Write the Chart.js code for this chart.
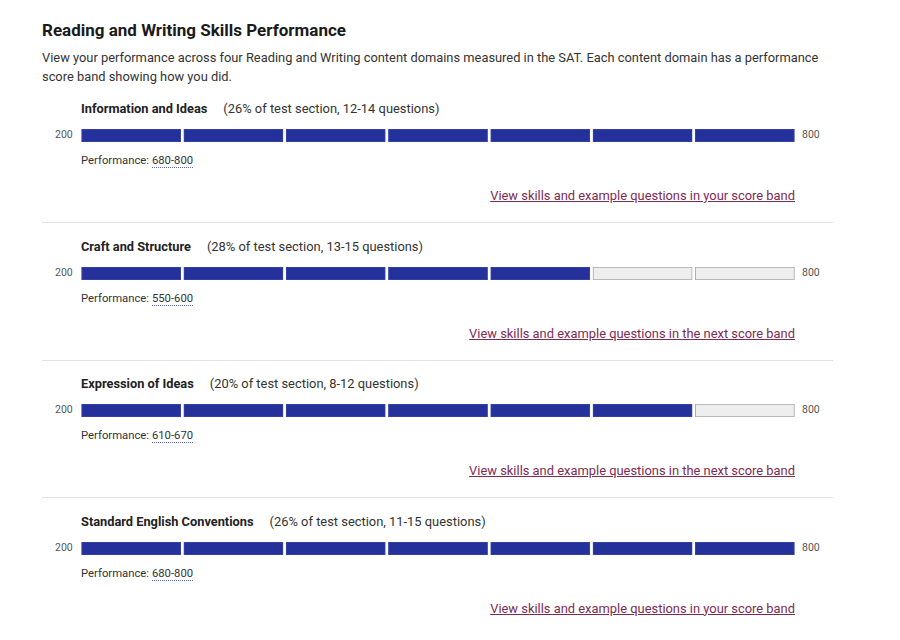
<!DOCTYPE html>
<html>
<head>
<meta charset="utf-8">
<script src="https://cdn.jsdelivr.net/npm/chart.js@4.4.0/dist/chart.umd.min.js"></script>
<style>
    body { margin: 0; background: #fff; font-family: Roboto, "Noto Sans", sans-serif; color: #222; }
    #page { position: relative; width: 900px; height: 640px; overflow: hidden; }
    h2 { position: absolute; left: 42px; top: 20px; margin: 0; font-size: 17px; font-weight: 700; color: #1a1a1a; }
    .desc { position: absolute; left: 42px; top: 48px; width: 800px; margin: 0; font-size: 12.87px; line-height: 19px; color: #333; }
    .section { position: absolute; left: 0; width: 900px; height: 138px; }
    .label { position: absolute; left: 81px; top: 6px; font-size: 12.8px; color: #222; white-space: nowrap; }
    .label b { font-weight: 700; }
    .label span { margin-left: 16px; color: #333; font-size: 12.9px; }
    .end { position: absolute; top: 33px; font-size: 10.5px; color: #555; }
    .barBox { position: absolute; left: 80px; top: 33px; width: 716px; height: 15px; }
    .perf { position: absolute; left: 81px; top: 59px; font-size: 11.3px; color: #333; }
    .perf span { border-bottom: 1.5px dotted #5a66c8; }
    .link { position: absolute; right: 105px; top: 93px; font-size: 12.9px; color: #7d2b55; text-decoration: underline; white-space: nowrap; }
    .rule { position: absolute; left: 42px; top: 127px; width: 791px; height: 1px; background: #e2e2e2; }
</style>
</head>
<body>
<div id="page">
    <h2>Reading and Writing Skills Performance</h2>
    <p class="desc">View your performance across four Reading and Writing content domains measured in the SAT. Each content domain has a performance score band showing how you did.</p>
</div>
<script>
const domains = ['Information and Ideas', 'Craft and Structure', 'Expression of Ideas', 'Standard English Conventions'];
const shares = ['26%', '28%', '20%', '26%'];
const questionRanges = ['12-14', '13-15', '8-12', '11-15'];
const performanceBands = ['680-800', '550-600', '610-670', '680-800'];
const filledBands = [7, 5, 6, 7];
const bandCount = 7;
const scoreMin = '200';
const scoreMax = '800';
const linkTexts = [
    'View skills and example questions in your score band',
    'View skills and example questions in the next score band',
    'View skills and example questions in the next score band',
    'View skills and example questions in your score band'
];

const page = document.getElementById('page');
const sectionTop = 95;
const sectionStep = 137.5;

domains.forEach((name, k) => {
    const sec = document.createElement('div');
    sec.className = 'section';
    sec.style.top = (sectionTop + k * sectionStep) + 'px';
    sec.innerHTML =
        '<div class="label"><b>' + name + '</b><span>(' + shares[k] + ' of test section, ' + questionRanges[k] + ' questions)</span></div>' +
        '<div class="end" style="left:55px">' + scoreMin + '</div>' +
        '<div class="barBox"><canvas id="band' + k + '"></canvas></div>' +
        '<div class="end" style="left:802px">' + scoreMax + '</div>' +
        '<div class="perf">Performance: <span>' + performanceBands[k] + '</span></div>' +
        '<div class="link">' + linkTexts[k] + '</div>' +
        (k < domains.length - 1 ? '<div class="rule"></div>' : '');
    page.appendChild(sec);

    const datasets = [];
    for (let i = 0; i < bandCount; i++) {
        const filled = i < filledBands[k];
        datasets.push({
            data: [[i + 0.015, i + 0.985]],
            backgroundColor: filled ? '#25319b' : '#eeeeee',
            borderColor: filled ? '#3a46a8' : '#a8a8a8',
            borderWidth: 1,
            borderSkipped: false,
            grouped: false,
            barPercentage: 1,
            categoryPercentage: 1
        });
    }

    new Chart(document.getElementById('band' + k).getContext('2d'), {
        type: 'bar',
        data: {
            labels: [name],
            datasets: datasets
        },
        options: {
            indexAxis: 'y',
            responsive: true,
            maintainAspectRatio: false,
            animation: false,
            layout: { padding: { top: 1, bottom: 1 } },
            scales: {
                x: { display: false, min: 0, max: bandCount },
                y: { display: false }
            },
            plugins: {
                legend: { display: false },
                tooltip: { enabled: false }
            }
        }
    });
});
</script>
</body>
</html>
